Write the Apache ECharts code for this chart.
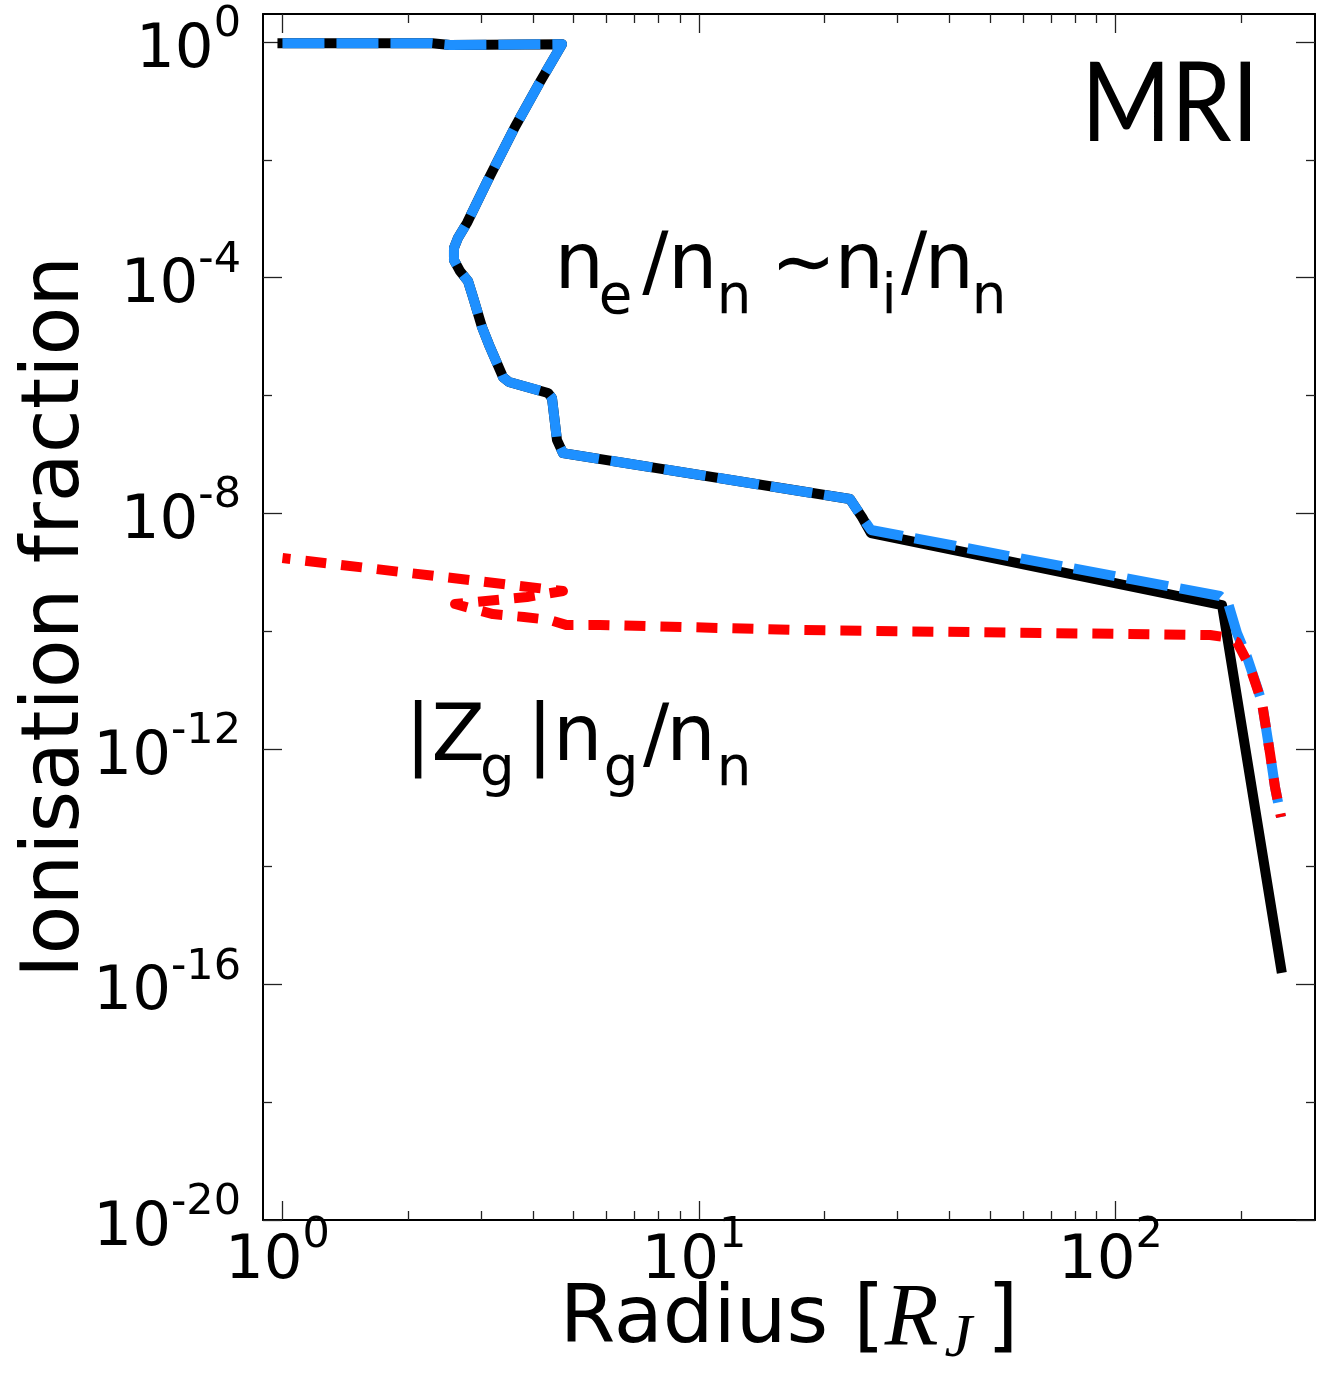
<!DOCTYPE html>
<html><head><meta charset="utf-8">
<script src="https://cdn.jsdelivr.net/npm/echarts@6/dist/echarts.min.js"></script>
<style>html,body{margin:0;padding:0;background:#fff}#c{width:1331px;height:1387px}</style>
</head><body><div id="c"></div>
<script>
// ---- data (radius in R_J, ionisation fraction) ----
const electronR = [1, 2.285, 2.525, 4.69, 4.152, 3.615, 3.114, 2.773, 2.638, 2.581, 2.581, 2.668, 2.789, 2.867, 3.013, 3.149, 3.384, 3.498, 4.340, 4.437, 4.561, 4.715, 23.04, 24.62, 25.88, 180.2, 249.7];
const electronFrac = [0.95, 0.95, 0.89, 0.92, 0.209, 0.0361, 4.54e-3, 8.45e-4, 4.70e-4, 3.18e-4, 1.99e-4, 1.29e-4, 8.75e-5, 4.69e-5, 1.45e-5, 6.63e-6, 2.05e-6, 1.69e-6, 1.10e-6, 9.03e-7, 1.75e-7, 1.05e-7, 1.74e-8, 8.61e-9, 4.61e-9, 2.76e-10, 1.9e-16];

const ionR = [1, 2.285, 2.525, 4.69, 4.152, 3.615, 3.114, 2.773, 2.638, 2.581, 2.581, 2.668, 2.789, 2.867, 3.013, 3.149, 3.384, 3.498, 4.340, 4.437, 4.561, 4.715, 23.04, 24.62, 25.88, 178.2, 186.3, 195.7, 206.9, 218.7, 224.8, 234.9, 241.5, 249.7];
const ionFrac = [0.95, 0.95, 0.89, 0.92, 0.209, 0.0361, 4.54e-3, 8.45e-4, 4.70e-4, 3.18e-4, 1.99e-4, 1.29e-4, 8.75e-5, 4.69e-5, 1.45e-5, 6.63e-6, 2.05e-6, 1.69e-6, 1.10e-6, 9.03e-7, 1.75e-7, 1.05e-7, 1.74e-8, 8.61e-9, 5.19e-9, 3.93e-10, 2.99e-10, 9.25e-11, 3.62e-11, 1.12e-11, 6.0e-12, 8.5e-13, 2.24e-13, 6.95e-14];

const dustR = [1, 4.715, 3.864, 2.596, 3.202, 3.801, 4.387, 4.795, 5.785, 17.48, 168.6, 182.2, 195.7, 210.4, 224.8, 234.9, 241.5, 249.7];
const dustFrac = [1.73e-9, 4.78e-10, 3.78e-10, 2.87e-10, 1.94e-10, 1.73e-10, 1.54e-10, 1.27e-10, 1.27e-10, 1.04e-10, 8.55e-11, 7.9e-11, 6.5e-11, 2.45e-11, 6.0e-12, 8.5e-13, 2.24e-13, 6.95e-14];

// ---- axis ranges and ticks (decades) ----
const xRange = [0.898, 301.3];
const yRange = [1e-20, 2.99];
const xMajorTicks = [1, 10, 100];
const xMinorTicks = [2, 3, 4, 5, 6, 7, 8, 9, 20, 30, 40, 50, 60, 70, 80, 90, 200];
const yMajorTicks = [1, 1e-4, 1e-8, 1e-12, 1e-16, 1e-20];
const yMinorTicks = [1e-2, 1e-6, 1e-10, 1e-14, 1e-18];

const L = Math.log10;
const pairs = (xs, ys) => xs.map((x, i) => [L(x), L(ys[i])]);

const expLabel = v => {
  const e = Math.round(v);
  return e < 0 ? `{b|10}{m|-}{s|${-e}}` : `{b|10}{s|${e}}`;
};
function rich(extraRight) {
  return {
    b: {fontFamily: 'DejaVu Sans', fontSize: 61, lineHeight: 61, padding: [18.5, 0, 0.5, 0], color: '#000'},
    m: {fontFamily: 'Liberation Sans', fontSize: 46, lineHeight: 43, padding: [1.5, 0, 35.5, 0], color: '#000'},
    s: {fontFamily: 'DejaVu Sans', fontSize: 43, lineHeight: 43, padding: [1.5, extraRight, 35.5, 0], color: '#000'}
  };
}
const frameLine = {color: '#000', width: 2};
const tickLine = {color: '#222', width: 1.3};

function makeAxis(dim, position, ticks, len, showLine, label, name) {
  const range = dim === 'x' ? xRange : yRange;
  const ax = {
    type: 'value', gridIndex: 0, position: position,
    min: L(range[0]), max: L(range[1]),
    splitLine: {show: false},
    axisLine: {show: showLine, onZero: false, lineStyle: frameLine},
    axisTick: {show: true, inside: true, length: len, customValues: ticks.map(L), lineStyle: tickLine},
    axisLabel: {show: false},
    axisPointer: {show: false},
    silent: true
  };
  if (label) ax.axisLabel = label;
  if (name) Object.assign(ax, name);
  return ax;
}

const xLabel = {show: true, customValues: xMajorTicks.map(L), formatter: expLabel, margin: 2.5, rich: rich(10)};
const yLabel = {show: true, customValues: yMajorTicks.map(L), formatter: expLabel, margin: 22, rich: rich(0)};

const xName = {
  name: '{a|Radius [}{r|R}{j|J}{a|]}',
  nameLocation: 'middle', nameGap: 73.3, nameMoveOverlap: false,
  nameTextStyle: {
    rich: {
      a: {fontFamily: 'DejaVu Sans', fontSize: 80, lineHeight: 56, color: '#000'},
      r: {fontFamily: 'Liberation Serif', fontStyle: 'italic', fontSize: 88, lineHeight: 56, color: '#000'},
      j: {fontFamily: 'Liberation Serif', fontStyle: 'italic', fontSize: 62, lineHeight: 56, padding: [36, 15, 0, 6], color: '#000'}
    }
  }
};
const yName = {
  name: 'Ionisation fraction',
  nameLocation: 'middle', nameGap: 166, nameMoveOverlap: false,
  nameTextStyle: {fontFamily: 'DejaVu Sans', fontSize: 80, color: '#000'}
};

const xAxes = [
  makeAxis('x', 'bottom', xMajorTicks, 19, true, xLabel, xName),
  makeAxis('x', 'bottom', xMinorTicks, 9, false),
  makeAxis('x', 'top', xMajorTicks, 19, true),
  makeAxis('x', 'top', xMinorTicks, 9, false)
];
const yAxes = [
  makeAxis('y', 'left', yMajorTicks, 19, true, yLabel, yName),
  makeAxis('y', 'left', yMinorTicks, 9, false),
  makeAxis('y', 'right', yMajorTicks, 19, true),
  makeAxis('y', 'right', yMinorTicks, 9, false)
];

// ---- annotations ----
const T = (t, x, y, fs, fam, extra) => ({
  type: 'text', silent: true, z: 10,
  style: Object.assign({text: t, x: x, y: y, fontSize: fs, fontFamily: fam, fill: '#000',
    align: 'left', textAlign: 'left', verticalAlign: 'middle', textVerticalAlign: 'middle'}, extra || {})
});
const MAIN = 78, SUB = 54.6, F = 'DejaVu Sans';
const a1m = 268, a1s = 299.1, a2m = 740, a2s = 771.1;
const graphics = [
  {type: 'text', silent: true, z: 10, x: 1170, y: 106, scaleX: 0.88, scaleY: 1,
    style: {text: 'MRI', x: 0, y: 0, fontSize: 110, fontFamily: 'Lato', fill: '#000',
      align: 'center', textAlign: 'center', verticalAlign: 'middle', textVerticalAlign: 'middle'}},
  T('n', 554.6, a1m, MAIN, F), T('e', 598.7, a1s, SUB, F), T('/', 642.3, a1m, MAIN, F),
  T('n', 667.9, a1m, MAIN, F), T('n', 716.7, a1s, SUB, F), T('\u223C', 770.8, a1m, MAIN, F),
  T('n', 834.6, a1m, MAIN, F), T('i', 881.6, a1s, SUB, F), T('/', 901, a1m, MAIN, F),
  T('n', 924.6, a1m, MAIN, F), T('n', 971.7, a1s, SUB, F),
  T('|', 405, a2m, MAIN, F), T('Z', 431.5, a2m, MAIN, F), T('g', 480, a2s, SUB, F),
  T('|', 526.8, a2m, MAIN, F), T('n', 552.9, a2m, MAIN, F), T('g', 603.7, a2s, SUB, F),
  T('/', 643, a2m, MAIN, F), T('n', 666.2, a2m, MAIN, F), T('n', 716.7, a2s, SUB, F)
];

const chart = echarts.init(document.getElementById('c'), null, {renderer: 'canvas'});
chart.setOption({
  animation: false,
  backgroundColor: '#fff',
  grid: {left: 263, right: 16, top: 14, bottom: 167, containLabel: false, outerBoundsMode: 'none'},
  xAxis: xAxes,
  yAxis: yAxes,
  series: [
    {type: 'line', name: 'n_e/n_n', xAxisIndex: 0, yAxisIndex: 0, data: pairs(electronR, electronFrac),
      symbol: 'none', showSymbol: false, silent: true, z: 2,
      lineStyle: {color: '#000', width: 10, cap: 'square', join: 'round'}},
    {type: 'line', name: 'n_i/n_n', xAxisIndex: 0, yAxisIndex: 0, data: pairs(ionR, ionFrac),
      symbol: 'none', showSymbol: false, silent: true, z: 3,
      lineStyle: {color: '#1e90ff', width: 10, type: [42, 12], dashOffset: 0, cap: 'butt', join: 'round'}},
    {type: 'line', name: '|Z_g|n_g/n_n', xAxisIndex: 0, yAxisIndex: 0, data: pairs(dustR, dustFrac),
      symbol: 'none', showSymbol: false, silent: true, z: 4,
      lineStyle: {color: '#ff0000', width: 10, type: [21, 15], dashOffset: 13, cap: 'butt', join: 'round'}}
  ],
  graphic: graphics
});
</script></body></html>
